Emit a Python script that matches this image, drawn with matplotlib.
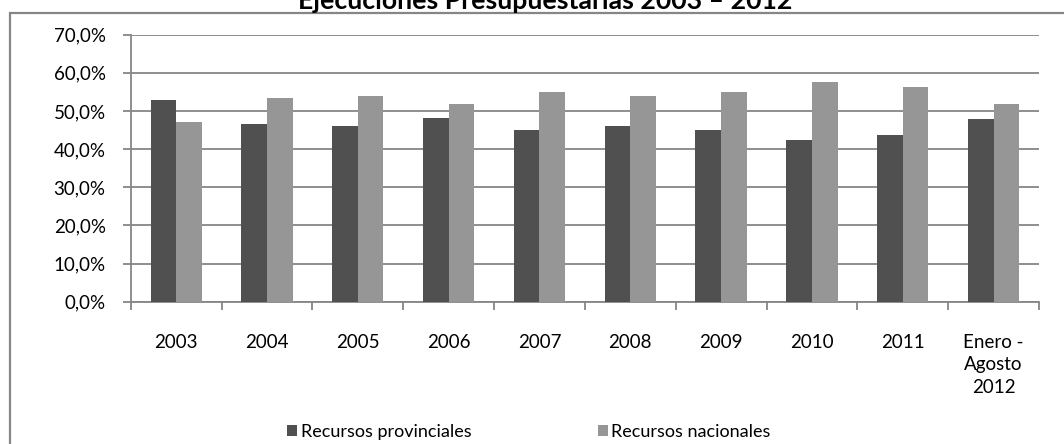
import matplotlib.pyplot as plt
import numpy as np
from matplotlib.patches import Rectangle

plt.rcParams['font.family'] = ['Lato', 'DejaVu Sans']

# datos
categorias = ['2003', '2004', '2005', '2006', '2007', '2008', '2009', '2010', '2011',
              'Enero -\nAgosto\n2012']
provinciales = [53.0, 46.6, 46.0, 48.2, 44.9, 46.0, 45.1, 42.5, 43.8, 48.0]
nacionales = [47.0, 53.3, 53.8, 51.8, 55.1, 53.9, 54.9, 57.7, 56.3, 51.8]
series = ['Recursos provinciales', 'Recursos nacionales']
colores = ['#505050', '#969696']
gris = '#868686'

W, H = 1064, 444
fig = plt.figure(figsize=(W / 100, H / 100), dpi=100)
ax = fig.add_axes([130.7 / W, 1 - 301.7 / H, (1039 - 130.7) / W, (301.7 - 34.7) / H])

x = np.arange(len(categorias))
ancho = 0.282
ax.bar(x - ancho / 2, provinciales, ancho, color=colores[0], label=series[0], zorder=3)
ax.bar(x + ancho / 2, nacionales, ancho, color=colores[1], label=series[1], zorder=3)

ax.set_xlim(-0.5, len(categorias) - 0.5)
ax.set_ylim(0, 70)
ax.set_yticks(np.arange(0, 71, 10))
ax.set_yticklabels([f'{v:.1f}%'.replace('.', ',') for v in np.arange(0, 71, 10)])
ax.yaxis.grid(True, color=gris, linewidth=1.3, zorder=0)

# ticks del eje x en los límites de cada categoría
ax.set_xticks(np.arange(-0.5, len(categorias), 1))
ax.set_xticklabels([])
ax.set_xticks(x, minor=True)
ax.set_xticklabels(categorias, minor=True)
ax.tick_params(axis='x', which='minor', length=0, pad=23, labelsize=13.5)
ax.tick_params(axis='x', which='major', length=6, width=1.3, color=gris)
ax.tick_params(axis='y', length=6, width=1.3, color=gris, pad=12, labelsize=13.5)
for t in ax.get_xticklabels(minor=True):
    t.set_linespacing(1.4)

for lado in ['top', 'right']:
    ax.spines[lado].set_visible(False)
for lado in ['left', 'bottom']:
    ax.spines[lado].set_color(gris)
    ax.spines[lado].set_linewidth(1.3)

# marco exterior del gráfico
fig.patches.append(Rectangle((9.5 / W, -0.1), 1.2, 1 - 13 / H + 0.1, transform=fig.transFigure,
                             fill=False, edgecolor=gris, linewidth=1.6))

fig.text(545 / W, 1 - 9 / H, 'Ejecuciones Presupuestarias 2003 – 2012', ha='center',
         va='baseline', fontsize=19.2, fontweight='bold')

fig.legend(loc='center', bbox_to_anchor=(529 / W, 12 / H), ncol=2, frameon=False,
           fontsize=13, handlelength=0.55, handleheight=0.55, handletextpad=0.2,
           columnspacing=7.0)

fig.savefig('out.png', dpi=100)
